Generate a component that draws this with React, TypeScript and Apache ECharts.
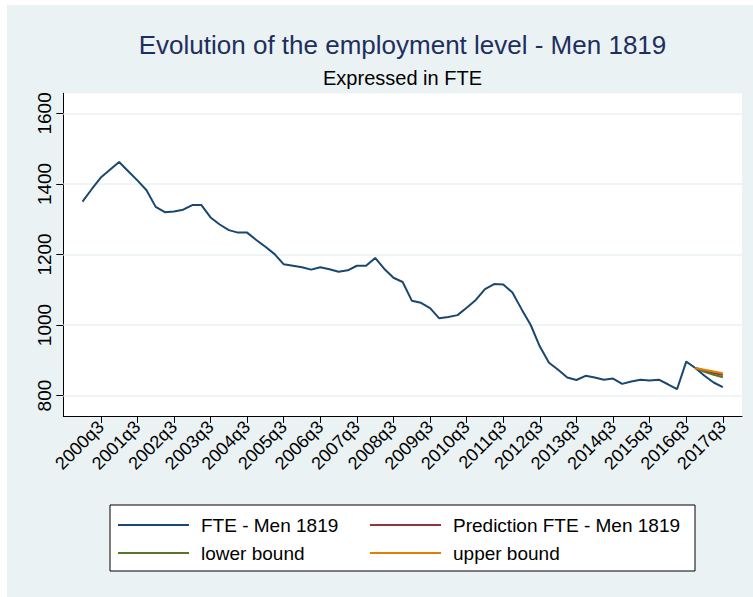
import React, { useEffect, useRef } from "react";
import * as echarts from "echarts";

// Quarterly categories 2000q1 .. 2017q3
const startYear = 2000;
const quarters: string[] = [];
for (let k = 0; k < 71; k++) {
  quarters.push(`${startYear + Math.floor(k / 4)}q${(k % 4) + 1}`);
}

const xTickLabels = [
  "2000q3", "2001q3", "2002q3", "2003q3", "2004q3", "2005q3", "2006q3", "2007q3", "2008q3",
  "2009q3", "2010q3", "2011q3", "2012q3", "2013q3", "2014q3", "2015q3", "2016q3", "2017q3",
];
const yTickValues = [800, 1000, 1200, 1400, 1600];

// FTE - Men 1819 (2000q1 .. 2017q3)
const fte = [
  1350, 1385, 1418, 1440, 1462, 1436, 1410, 1382, 1335, 1320,
  1322, 1327, 1340, 1340, 1305, 1285, 1269, 1262, 1262, 1241,
  1222, 1201, 1172, 1168, 1164, 1157, 1164, 1158, 1151, 1155,
  1168, 1168, 1190, 1159, 1134, 1122, 1069, 1063, 1048, 1019,
  1023, 1028, 1049, 1071, 1102, 1116, 1115, 1092, 1045, 1000,
  939, 893, 873, 851, 844, 856, 851, 845, 848, 833,
  840, 845, 843, 845, 832, 818, 896, 878, 856, 837,
  824,
];

// Forecast from 2016q4 .. 2017q3
const forecastStart = "2016q4";
const prediction = [878, 871, 864, 858];
const lowerBound = [878, 867, 859, 852];
const upperBound = [878, 873, 868, 863];

const FONT = "'Liberation Sans', Arial, Helvetica, sans-serif";

export default function App() {
  const ref = useRef<HTMLDivElement>(null);

  useEffect(() => {
    if (!ref.current) return;
    const chart = echarts.init(ref.current, null, { renderer: "svg" });
    const fs = quarters.indexOf(forecastStart);
    const xTickIdx = xTickLabels.map((l) => quarters.indexOf(l));

    const lineSeries = (name: string, color: string, data: number[][], extra: any = {}) => ({
      name,
      type: "line",
      data,
      symbol: "none",
      showSymbol: false,
      lineStyle: { color, width: 2 },
      itemStyle: { color },
      emphasis: { disabled: true },
      z: 3,
      ...extra,
    });

    chart.setOption({
      animation: false,
      backgroundColor: "transparent",
      textStyle: { fontFamily: FONT },
      grid: {
        left: 56.3,
        top: 88.3,
        right: 11,
        bottom: 181,
        show: true,
        backgroundColor: "#ffffff",
        borderWidth: 0,
        containLabel: false,
        outerBoundsMode: "none",
      },
      xAxis: {
        type: "value",
        min: -2.1,
        max: 72.1,
        axisLine: { show: true, onZero: false, lineStyle: { color: "#000", width: 1 } },
        axisTick: { show: true, length: 7, lineStyle: { color: "#000", width: 1 }, customValues: xTickIdx },
        axisLabel: {
          show: true,
          customValues: xTickIdx,
          rotate: 45,
          margin: 8,
          fontSize: 18,
          color: "#000",
          fontFamily: FONT,
          formatter: (v: number) => quarters[Math.round(v)],
        },
        splitLine: { show: false },
      },
      yAxis: {
        type: "value",
        min: 742,
        max: 1657,
        axisLine: { show: true, onZero: false, lineStyle: { color: "#000", width: 1 } },
        axisTick: { show: true, length: 7, lineStyle: { color: "#000", width: 1 }, customValues: yTickValues },
        axisLabel: {
          show: true,
          customValues: yTickValues,
          rotate: 90,
          margin: 9,
          fontSize: 19,
          color: "#000",
          fontFamily: FONT,
          formatter: (v: number) => String(v),
        },
        splitLine: { show: false },
      },
      legend: [
        {
          orient: "vertical",
          left: 111,
          top: 510,
          padding: 0,
          itemGap: 8,
          itemWidth: 71,
          itemHeight: 2,
          icon: "rect",
          selectedMode: false,
          data: ["FTE - Men 1819", "lower bound"],
          textStyle: { fontSize: 19, color: "#000", fontFamily: FONT, lineHeight: 20, padding: [0, 0, 0, 7] },
        },
        {
          orient: "vertical",
          left: 363,
          top: 510,
          padding: 0,
          itemGap: 8,
          itemWidth: 71,
          itemHeight: 2,
          icon: "rect",
          selectedMode: false,
          data: ["Prediction FTE - Men 1819", "upper bound"],
          textStyle: { fontSize: 19, color: "#000", fontFamily: FONT, lineHeight: 20, padding: [0, 0, 0, 7] },
        },
      ],
      graphic: [
        {
          type: "rect",
          z: 0,
          shape: { x: 103, y: 500, width: 585, height: 66 },
          style: { fill: "#ffffff", stroke: "#000000", lineWidth: 1 },
          silent: true,
        },
        {
          type: "text",
          x: 395.5,
          y: 40,
          silent: true,
          style: {
            text: "Evolution of the employment level - Men 1819",
            fontSize: 26,
            fontFamily: FONT,
            fill: "#1E2F5E",
            align: "center",
            verticalAlign: "middle",
          },
        },
        {
          type: "text",
          x: 395.5,
          y: 73,
          silent: true,
          style: {
            text: "Expressed in FTE",
            fontSize: 20,
            fontFamily: FONT,
            fill: "#000000",
            align: "center",
            verticalAlign: "middle",
          },
        },
      ],
      series: [
        lineSeries(
          "FTE - Men 1819",
          "#1A476F",
          fte.map((v, i) => [i, v]),
          {
            markLine: {
              silent: true,
              z: 1,
              symbol: ["none", "none"],
              label: { show: false },
              lineStyle: { color: "#EAF2F3", width: 1.5, type: "solid" },
              emphasis: { disabled: true },
              data: yTickValues.map((v) => ({ yAxis: v })),
            },
          }
        ),
        lineSeries("Prediction FTE - Men 1819", "#90353B", prediction.map((v, k) => [fs + k, v])),
        lineSeries("lower bound", "#55752F", lowerBound.map((v, k) => [fs + k, v])),
        lineSeries("upper bound", "#E37E00", upperBound.map((v, k) => [fs + k, v])),
      ],
    });

    return () => chart.dispose();
  }, []);

  return (
    <div
      style={{
        position: "fixed",
        left: 7,
        top: 5,
        width: 746,
        height: 592,
        background: "#EAF2F3",
      }}
    >
      <div ref={ref} style={{ width: 746, height: 592 }} />
    </div>
  );
}
